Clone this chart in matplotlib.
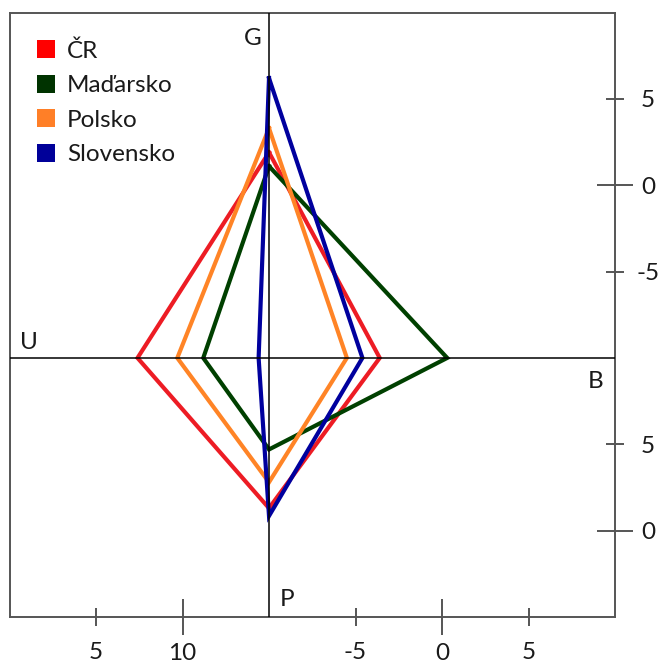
"""
Magický čtyřúhelník: ČR, Maďarsko, Polsko, Slovensko
"""

import matplotlib
matplotlib.use('Agg')
import matplotlib.pyplot as plt

plt.rcParams['font.family'] = ['Lato', 'DejaVu Sans']

# values
countries = ['ČR', 'Maďarsko', 'Polsko', 'Slovensko']
colors = ['#ED1C24', '#004000', '#FF8426', '#00009E']
legend_colors = ['#FF0000', '#003300', '#FF7F27', '#000099']
growth = [1.9, 1.1, 3.3, 6.2]          # G (top)
balance = [-3.6, 0.3, -5.5, -4.6]      # B (right)
inflation = [1.3, 4.7, 2.8, 0.85]      # P (bottom)
unemployment = [7.4, 11.2, 9.7, 14.4]  # U (left)

# axis offsets: centre of the cross is G=-10, B=-10, P=10, U=15
G0, B0, P0, U0 = -10, -10, 10, 15

g_ticks = [5, 0, -5]
p_ticks = [5, 0]
u_ticks = [5, 10]
b_ticks = [-5, 0, 5]

W, H = 660, 665
fig = plt.figure(figsize=(W / 100, H / 100), dpi=100)
fig.patch.set_facecolor('white')
ax = fig.add_axes([9.5 / W, (H - 617) / H, 605.5 / W, 604.5 / H])
ax.set_xlim(-15, 20)
ax.set_ylim(-15, 20)

for i, name in enumerate(countries):
    xs = [0, balance[i] - B0, 0, unemployment[i] - U0, 0]
    ys = [growth[i] - G0, 0, inflation[i] - P0, 0, growth[i] - G0]
    ax.plot(xs, ys, color=colors[i], lw=3, solid_joinstyle='miter', zorder=2)

ax.axhline(0, color='black', lw=1.1, zorder=3)
ax.axvline(0, color='black', lw=1.1, zorder=3)

# axis names
fs = 17.5
ax.text(-0.92, 18.5, 'G', ha='center', va='center', fontsize=fs, color='#1a1a1a')
ax.text(-13.9, 0.87, 'U', ha='center', va='center', fontsize=fs, color='#1a1a1a')
ax.text(18.9, -1.38, 'B', ha='center', va='center', fontsize=fs, color='#1a1a1a')
ax.text(1.04, -14.0, 'P', ha='center', va='center', fontsize=fs, color='#1a1a1a')

# frame
for s in ax.spines.values():
    s.set_color('#555555')
    s.set_linewidth(1.4)

# right ticks (G above the cross, P below)
y_vals = [t - G0 for t in g_ticks] + [-(P0 - t) for t in p_ticks]
y_labels = [str(t) for t in g_ticks] + [str(t) for t in p_ticks]
major_y = [(v, l) for v, l in zip(y_vals, y_labels) if l == '0']
minor_y = [(v, l) for v, l in zip(y_vals, y_labels) if l != '0']
ax.yaxis.tick_right()
ax.set_yticks([v for v, _ in major_y])
ax.set_yticklabels([l for _, l in major_y])
ax.set_yticks([v for v, _ in minor_y], minor=True)
ax.set_yticklabels([l for _, l in minor_y], minor=True)

# bottom ticks (U left of the cross, B right)
x_vals = [t - U0 for t in u_ticks] + [t - B0 for t in b_ticks]
x_labels = [str(t) for t in u_ticks] + [str(t) for t in b_ticks]
major_x = [(v, l) for v, l in zip(x_vals, x_labels) if l in ('10', '0')]
minor_x = [(v, l) for v, l in zip(x_vals, x_labels) if l not in ('10', '0')]
ax.set_xticks([v for v, _ in major_x])
ax.set_xticklabels([l for _, l in major_x])
ax.set_xticks([v for v, _ in minor_x], minor=True)
ax.set_xticklabels([l for _, l in minor_x], minor=True)

ax.tick_params(axis='both', which='both', direction='inout', color='#555555',
               width=1.4, labelsize=fs, labelcolor='#1a1a1a')
ax.tick_params(axis='both', which='major', length=26)
ax.tick_params(axis='both', which='minor', length=12.5)
ax.tick_params(axis='y', which='major', pad=10.8)
ax.tick_params(axis='y', which='minor', pad=17.6)
ax.tick_params(axis='x', which='major', pad=5.5)
ax.tick_params(axis='x', which='minor', pad=12)
for t in ax.get_yticklabels(which='both'):
    t.set_horizontalalignment('center')

# legend
for i, name in enumerate(countries):
    y = 0.9396 - i * 0.0571
    ax.scatter([0.0603], [y], marker='s', s=175, color=legend_colors[i],
               transform=ax.transAxes, clip_on=False, zorder=4, linewidths=0)
    ax.text(0.095, y, name, transform=ax.transAxes, ha='left',
            va='center_baseline', fontsize=fs, color='#1a1a1a')

fig.savefig('out.png', dpi=100, facecolor='white')
plt.close(fig)
